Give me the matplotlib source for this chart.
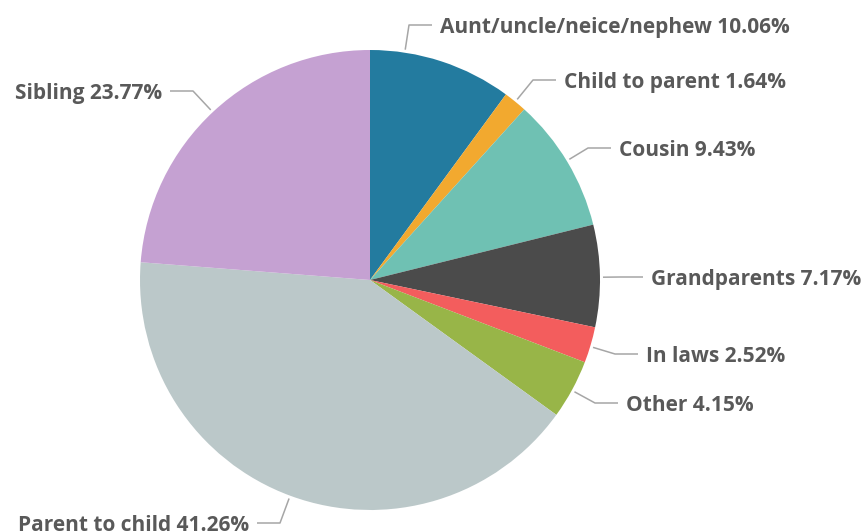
import matplotlib.pyplot as plt
import numpy as np

categories = [
    "Aunt/uncle/neice/nephew",
    "Child to parent",
    "Cousin",
    "Grandparents",
    "In laws",
    "Other",
    "Parent to child",
    "Sibling",
]
shares = [10.06, 1.64, 9.43, 7.17, 2.52, 4.15, 41.26, 23.77]
colors = ["#237b9f", "#f2a92f", "#6fc1b3", "#4b4b4b", "#f35d5d", "#98b548", "#bbc8c9", "#c5a1d2"]

# elbow of each leader line, in pixel units of the canvas
elbows = [(409, 25), (533, 80), (588, 148), (620, 277), (615, 354), (595, 403), (280, 523), (193, 91)]

W, H = 868, 532
cx, cy, r = 370, 280, 230

fig = plt.figure(figsize=(W / 100, H / 100), dpi=100)
ax = fig.add_axes([0, 0, 1, 1])

# y runs downward, so a counter-clockwise pie starting at -90 reads clockwise from the top
ax.pie(shares, colors=colors, startangle=-90, counterclock=True,
       center=(cx, cy), radius=r, wedgeprops={"linewidth": 0})
ax.set_xlim(0, W)
ax.set_ylim(H, 0)
ax.set_aspect("equal")
ax.axis("off")

line_color = "#a6a6a6"
text_color = "#595959"
for name, val, (ex, ey) in zip(categories, shares, elbows):
    ang = np.arctan2(ey - cy, ex - cx)
    sx, sy = cx + (r + 3) * np.cos(ang), cy + (r + 3) * np.sin(ang)
    side = 1 if ex > cx else -1
    hx = ex + side * 23
    ax.plot([sx, ex, hx], [sy, ey, ey], color=line_color, lw=1.1, solid_capstyle="butt")
    ax.text(hx + side * 8, ey + 8, f"{name} {val:.2f}%", ha="left" if side > 0 else "right",
            va="baseline", fontsize=15, fontweight="bold", color=text_color, family="Open Sans")

fig.savefig("out.png", dpi=100)
